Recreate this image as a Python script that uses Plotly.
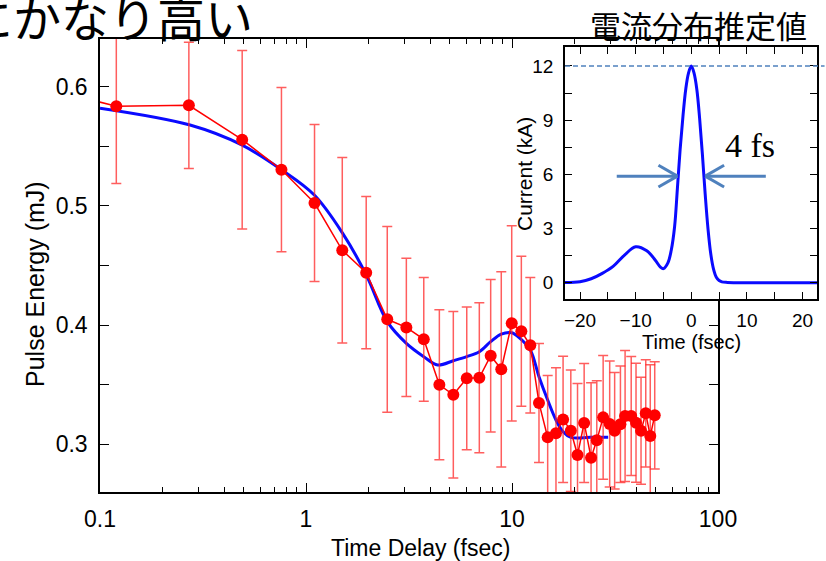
import plotly.graph_objects as go

# ---------------- data ----------------
delay_fs = [0.07, 0.12, 0.27, 0.49, 0.76, 1.1, 1.5, 1.96, 2.48, 3.07,
            3.73, 4.44, 5.19, 6.03, 6.94, 7.88, 8.87, 9.97, 11.1, 12.27,
            13.52, 14.9, 16.35, 17.7, 19.3, 20.8, 22.4, 24.2, 25.8, 27.7,
            29.8, 31.5, 33.6, 35.4, 37.9, 40.0, 42.3, 44.6, 46.9, 49.3]
energy_mJ = [0.594, 0.5838, 0.5846, 0.5557, 0.5305, 0.5025, 0.4628, 0.444, 0.4048, 0.398,
             0.388, 0.3498, 0.3414, 0.3552, 0.3557, 0.3742, 0.3628, 0.4014, 0.3947, 0.383,
             0.3345, 0.3056, 0.309, 0.3207, 0.3112, 0.2908, 0.3177, 0.2885, 0.3031, 0.3224,
             0.3168, 0.3112, 0.3166, 0.3235, 0.3235, 0.3179, 0.3112, 0.3258, 0.3067, 0.3241]
energy_err = [0.060, 0.065, 0.053, 0.075, 0.069, 0.066, 0.078, 0.064, 0.078, 0.058,
              0.052, 0.063, 0.070, 0.060, 0.063, 0.064, 0.082, 0.082, 0.063, 0.057,
              0.050, 0.052, 0.055, 0.053, 0.051, 0.060, 0.050, 0.063, 0.050, 0.052,
              0.053, 0.049, 0.049, 0.055, 0.050, 0.050, 0.045, 0.045, 0.060, 0.045]

fit_x = [0.1, 0.2736, 0.4875, 0.762, 1.097, 1.507, 1.962, 2.481, 3.07, 3.73,
         4.36, 5.19, 6.03, 6.94, 7.88, 8.87, 9.97, 10.94, 12.27, 13.52,
         14.9, 16.35, 17.7, 19.3, 24.0, 29.3]
fit_y = [0.5822, 0.568, 0.5513, 0.5303, 0.5092, 0.477, 0.442, 0.4028, 0.3846, 0.3734,
         0.3664, 0.370, 0.3734, 0.3776, 0.386, 0.3924, 0.3935, 0.3888, 0.379, 0.3566,
         0.337, 0.3202, 0.3103, 0.3056, 0.3056, 0.3056]

time_fs = [-22.7, -20, -18, -16, -14, -12, -10, -8, -6.5, -5.5,
           -5.0, -4.2, -3.6, -3.0, -2.5, -2.0, -1.5, -1.0, -0.5, 0,
           0.5, 1.0, 1.5, 2.0, 2.5, 3.0, 3.5, 4.0, 4.5, 5.0,
           5.5, 6.5, 10, 15, 22.6]
current_kA = [0.02, 0.06, 0.22, 0.52, 0.92, 1.53, 1.99, 1.77, 1.26, 0.85,
              0.78, 1.1, 1.8, 3.1, 5.2, 7.4, 9.2, 10.7, 11.6, 12.0,
              11.6, 10.7, 9.1, 7.1, 4.9, 3.0, 1.6, 0.75, 0.3, 0.12,
              0.05, 0.02, 0.0, 0.0, 0.0]

main_xticks = [0.1, 1, 10, 100]
main_xticklabels = ["0.1", "1", "10", "100"]
main_xminor = [m * d for d in (0.1, 1, 10) for m in range(2, 10)]
main_yticks = [0.3, 0.4, 0.5, 0.6]
inset_xticks = [-20, -10, 0, 10, 20]
inset_yticks = [0, 3, 6, 9, 12]
peak_level = 12
fwhm_label = "4 fs"
inset_title = "電流分布推定値"
corner_text = "にかなり高い"

# ---------------- figure ----------------
W, H = 826, 561
L, R, T, B = 100, 9, 39, 69
PW, PH = W - L - R, H - T - B


def px(xp):
    return (xp - L) / PW


def py(yp):
    return (H - B - yp) / PH


BLUE = "#0a0aff"
RED = "#ff0000"
STEEL = "#4f81bd"
FONT = "Liberation Sans, Arial, sans-serif"
CJK = "Noto Sans CJK JP"

fig = go.Figure()

fig.add_trace(go.Scatter(
    x=fit_x, y=fit_y, mode="lines", line=dict(color=BLUE, width=3, shape="spline"),
    xaxis="x", yaxis="y", hoverinfo="skip", showlegend=False))

fig.add_trace(go.Scatter(
    x=delay_fs, y=energy_mJ, mode="lines+markers",
    line=dict(color=RED, width=1.5),
    marker=dict(color=RED, size=12),
    error_y=dict(type="data", array=energy_err, color="rgba(255,40,40,0.75)",
                 thickness=1.5, width=5),
    xaxis="x", yaxis="y", showlegend=False))

fig.add_trace(go.Scatter(
    x=time_fs, y=current_kA, mode="lines", line=dict(color=BLUE, width=3, shape="spline"),
    xaxis="x2", yaxis="y2", hoverinfo="skip", showlegend=False))

axis_common = dict(showline=True, linecolor="black", linewidth=1.5, mirror="ticks",
                   ticks="inside", tickcolor="black", tickwidth=1.2,
                   showgrid=False, zeroline=False, automargin=False)

fig.update_layout(
    width=W, height=H,
    margin=dict(l=L, r=R, t=T, b=B, pad=0, autoexpand=False),
    paper_bgcolor="white", plot_bgcolor="white",
    font=dict(family=FONT, color="black"),
    xaxis=dict(type="log", range=[-1, 2], domain=[0, 618 / PW],
               tickvals=main_xticks, ticktext=main_xticklabels, ticklen=9,
               tickfont=dict(size=23), ticklabelstandoff=6,
               minor=dict(tickvals=main_xminor, ticks="inside", ticklen=5,
                          tickcolor="black", tickwidth=1),
               anchor="y", **axis_common),
    yaxis=dict(range=[0.2597, 0.6403], domain=[0, 1], tickvals=main_yticks,
               ticklen=9, tickfont=dict(size=23), ticklabelstandoff=6,
               tickformat=".1f",
               minor=dict(dtick=0.05, ticks="inside", ticklen=9,
                          tickcolor="black", tickwidth=1),
               anchor="x", **axis_common),
    xaxis2=dict(range=[-22.7, 22.6], domain=[px(565), 1.0], tickvals=inset_xticks,
                ticklen=7, tickfont=dict(size=19), ticklabelstandoff=3,
                minor=dict(dtick=5, ticks="inside", ticklen=7,
                           tickcolor="black", tickwidth=1),
                anchor="y2", **axis_common),
    yaxis2=dict(range=[-0.9, 13.05], domain=[py(299), py(47)], tickvals=inset_yticks,
                ticklen=7, tickfont=dict(size=19), ticklabelstandoff=6,
                minor=dict(dtick=1.5, ticks="inside", ticklen=7,
                           tickcolor="black", tickwidth=1),
                anchor="x2", **axis_common),
)

# peak level dashed line and FWHM arrows in the inset
fig.add_shape(type="line", xref="x2 domain", yref="y2", x0=0, x1=1.03,
              y0=peak_level, y1=peak_level,
              line=dict(color=STEEL, width=1.5, dash="5px,3px"))

arrow_line = dict(color=STEEL, width=3)
arrow_y = 5.9
for tail, tip, wing in ((-13.4, -2.5, -5.9), (13.4, 2.5, 5.9)):
    fig.add_shape(type="line", xref="x2", yref="y2", x0=tail, x1=tip,
                  y0=arrow_y, y1=arrow_y, line=arrow_line)
    fig.add_shape(type="line", xref="x2", yref="y2", x0=wing, x1=tip,
                  y0=arrow_y + 0.6, y1=arrow_y, line=arrow_line)
    fig.add_shape(type="line", xref="x2", yref="y2", x0=wing, x1=tip,
                  y0=arrow_y - 0.6, y1=arrow_y, line=arrow_line)


def label(x, y, text, size, family=FONT, angle=0, xanchor="center"):
    fig.add_annotation(xref="paper", yref="paper", x=px(x), y=py(y), text=text,
                       showarrow=False, textangle=angle,
                       xanchor=xanchor, yanchor="middle",
                       font=dict(family=family, size=size, color="black"))


label(750, 145, fwhm_label, 34, family="Liberation Serif, Times New Roman, serif")
label(420, 548, "Time Delay (fsec)", 23)
label(35, 284, "Pulse Energy (mJ)", 25, angle=-90)
label(691, 342, "Time (fsec)", 20)
label(525, 174, "Current (kA)", 21, angle=-90)
label(698, 24, inset_title, 31, family=CJK)
label(255, 16, corner_text, 48, family=CJK, xanchor="right")

fig.write_html("out.html", config={"displayModeBar": False},
               post_script="document.body.style.margin='0';")
